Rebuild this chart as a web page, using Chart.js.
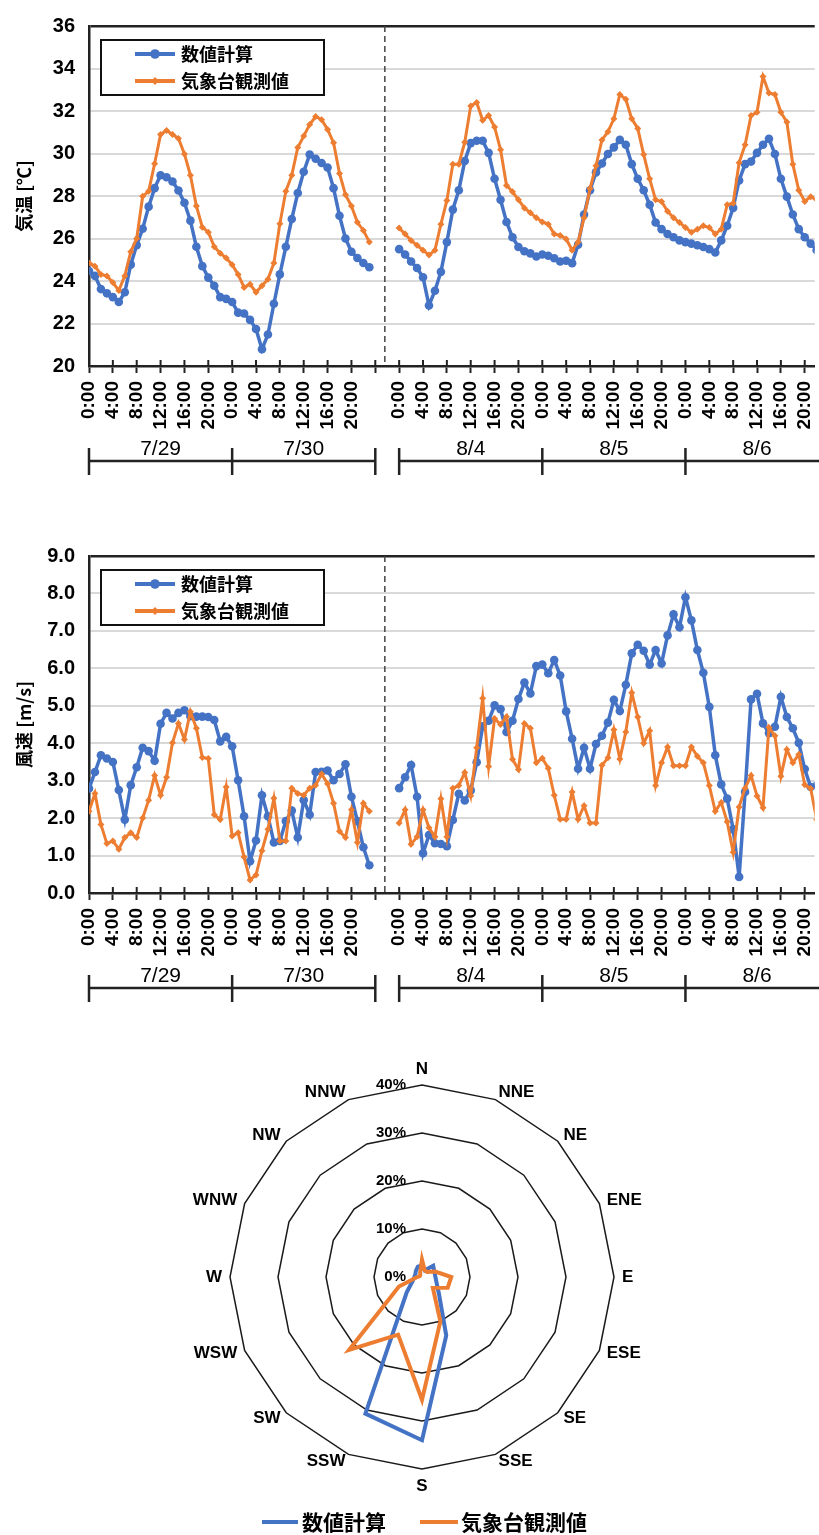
<!DOCTYPE html>
<html>
<head>
<meta charset="utf-8">
<script src="https://cdn.jsdelivr.net/npm/chart.js@4.4.1/dist/chart.umd.min.js"></script>
<style>
  html, body { margin: 0; padding: 0; background: #fff; }
  body { width: 819px; height: 1535px; position: relative; overflow: hidden; }
  canvas { position: absolute; left: 0; }
  #temp { top: 0; }
  #wind { top: 530px; }
  #rose { top: 1040px; }
</style>
</head>
<body>
<canvas id="temp" width="819" height="480"></canvas>
<canvas id="wind" width="819" height="480"></canvas>
<canvas id="rose" width="819" height="495"></canvas>
<script>
const SANS = "'Liberation Sans', Arial, sans-serif";
const CJK = "'Noto Sans CJK JP', 'Noto Sans CJK SC', sans-serif";
const BLUE = '#4472C4';
const ORANGE = '#ED7D31';

const seriesNames = ['数値計算', '気象台観測値'];

// x axis is in hours: 7/29 0:00 = 0, 8/4 0:00 placed at 52 (gap after 7/30)
const AUG_START = 52;
const BREAK_AT = 49.6;
const X_MAX = 121.67;
const tickHours = [0, 4, 8, 12, 16, 20, 24, 28, 32, 36, 40, 44, 48,
  52, 56, 60, 64, 68, 72, 76, 80, 84, 88, 92, 96, 100, 104, 108, 112, 116, 120];
const dayLabels = ['7/29', '7/30', '8/4', '8/5', '8/6'];
const dayStarts = [0, 24, 52, 76, 100];
const dayBounds = [0, 24, 48, 52, 76, 100];

// hourly temperature [°C]
const tempCalcJul = [24.47, 24.24, 23.62, 23.42, 23.24, 23.01, 23.47, 24.77, 25.69, 26.46,
  27.5, 28.37, 28.98, 28.88, 28.68, 28.26, 27.68, 26.84, 25.61, 24.7,
  24.16, 23.78, 23.24, 23.16, 23.01, 22.51, 22.47, 22.17, 21.74, 20.79,
  21.48, 22.93, 24.31, 25.61, 26.92, 28.14, 29.14, 29.95, 29.75, 29.55,
  29.34, 28.37, 27.07, 26.0, 25.38, 25.08, 24.85, 24.65];
const tempObsJul = [24.85, 24.7, 24.31, 24.24, 23.93, 23.55, 24.24, 25.38, 26.0, 27.99,
  28.22, 29.52, 30.9, 31.08, 30.9, 30.71, 29.98, 28.98, 27.53, 26.53,
  26.3, 25.61, 25.31, 25.08, 24.77, 24.31, 23.7, 23.85, 23.47, 23.78,
  24.08, 24.85, 26.69, 28.22, 28.98, 30.28, 30.82, 31.36, 31.74, 31.59,
  31.13, 30.51, 29.06, 28.06, 27.53, 26.76, 26.38, 25.84];
const tempCalcAug = [25.5, 25.25, 24.92, 24.61, 24.18, 22.85, 23.54, 24.43, 25.83, 27.36,
  28.27, 29.65, 30.49, 30.6, 30.6, 30.03, 28.81, 27.82, 26.78, 26.06,
  25.6, 25.4, 25.3, 25.15, 25.25, 25.19, 25.07, 24.92, 24.95, 24.84,
  25.71, 27.13, 28.27, 29.11, 29.53, 29.98, 30.29, 30.64, 30.41, 29.5,
  28.81, 28.27, 27.59, 26.75, 26.44, 26.21, 26.06, 25.91, 25.83, 25.76,
  25.68, 25.6, 25.5, 25.34, 25.91, 26.6, 27.44, 28.73, 29.5, 29.62,
  30.03, 30.41, 30.69, 29.98, 28.81, 27.97, 27.13, 26.44, 26.06, 25.76,
  25.45];
const tempObsAug = [26.49, 26.21, 25.91, 25.68, 25.45, 25.22, 25.45, 26.67, 27.79, 29.5,
  29.5, 30.53, 32.24, 32.4, 31.56, 31.79, 31.25, 30.18, 28.5, 28.2,
  27.82, 27.44, 27.21, 26.98, 26.78, 26.67, 26.21, 26.14, 25.98, 25.45,
  25.83, 26.98, 28.35, 29.42, 30.64, 31.02, 31.63, 32.78, 32.55, 31.63,
  31.18, 29.95, 28.81, 27.82, 27.74, 27.28, 26.98, 26.75, 26.52, 26.29,
  26.44, 26.6, 26.52, 26.21, 26.44, 27.59, 27.66, 29.57, 30.41, 31.79,
  31.94, 33.62, 32.85, 32.78, 31.94, 31.48, 29.5, 28.27, 27.74, 27.97,
  27.82];

// hourly wind speed [m/s]
const windCalcJul = [2.79, 3.23, 3.68, 3.59, 3.5, 2.75, 1.96, 2.88, 3.36, 3.88,
  3.79, 3.53, 4.52, 4.81, 4.66, 4.81, 4.88, 4.72, 4.71, 4.71,
  4.7, 4.62, 4.05, 4.17, 3.92, 3.01, 2.05, 0.85, 1.4, 2.61,
  2.05, 1.35, 1.39, 1.92, 2.2, 1.48, 2.48, 2.09, 3.23, 3.24,
  3.27, 3.01, 3.18, 3.44, 2.57, 1.92, 1.22, 0.74];
const windObsJul = [2.18, 2.66, 1.83, 1.32, 1.39, 1.17, 1.48, 1.61, 1.48, 2.0,
  2.48, 3.14, 2.61, 3.09, 4.01, 4.53, 4.1, 4.84, 4.4, 3.62,
  3.59, 2.09, 1.96, 2.83, 1.52, 1.61, 0.96, 0.35, 0.48, 1.13,
  1.7, 2.53, 1.39, 1.39, 2.8, 2.66, 2.61, 2.8, 2.88, 3.18,
  2.92, 2.4, 1.65, 1.48, 2.22, 1.35, 2.4, 2.18];
const windCalcAug = [2.8, 3.09, 3.42, 2.57, 1.06, 1.55, 1.33, 1.31, 1.25, 1.95,
  2.65, 2.47, 2.74, 3.49, 4.45, 4.6, 5.01, 4.91, 4.3, 4.6,
  5.18, 5.62, 5.33, 6.06, 6.1, 5.87, 6.22, 5.81, 4.85, 4.12,
  3.32, 3.88, 3.32, 3.98, 4.2, 4.55, 5.16, 4.86, 5.56, 6.4,
  6.63, 6.47, 6.1, 6.49, 6.13, 6.88, 7.44, 7.1, 7.9, 7.28,
  6.49, 5.88, 4.97, 3.68, 2.9, 2.52, 1.7, 0.43, 2.7, 5.17,
  5.32, 4.53, 4.27, 4.44, 5.24, 4.7, 4.4, 4.01, 3.31, 2.83,
  2.87];
const windObsAug = [1.87, 2.22, 1.3, 1.5, 2.22, 1.74, 1.5, 2.52, 1.5, 2.8,
  2.87, 3.22, 2.6, 3.88, 5.2, 3.38, 4.66, 4.5, 4.71, 3.57,
  3.3, 4.53, 4.4, 3.48, 3.6, 3.33, 2.61, 1.97, 1.97, 2.7,
  1.97, 2.33, 1.87, 1.87, 3.41, 3.61, 4.36, 3.58, 4.3, 5.35,
  4.7, 4.0, 4.33, 2.87, 3.48, 3.9, 3.4, 3.4, 3.4, 3.9,
  3.65, 3.48, 2.87, 2.18, 2.42, 1.9, 1.09, 2.3, 2.8, 3.14,
  2.59, 2.28, 4.42, 4.2, 3.12, 3.83, 3.48, 3.7, 2.89, 2.79,
  1.96];

// wind direction frequency [%]
const directions = ['N', 'NNE', 'NE', 'ENE', 'E', 'ESE', 'SE', 'SSE',
  'S', 'SSW', 'SW', 'WSW', 'W', 'WNW', 'NW', 'NNW'];
const roseCalc = [2.5, 1.5, 3.3, 2.8, 2.8, 3.3, 5.0, 13.2, 34.0, 30.8, 4.5, 2.1, 1.6, 1.5, 1.8, 2.3];
const roseObs = [3.6, 1.5, 1.5, 3.0, 6.1, 5.8, 3.2, 10.0, 25.6, 13.0, 21.5, 5.2, 1.0, 0.5, 0.5, 1.0];
const roseTicks = [0, 10, 20, 30, 40];

Chart.defaults.font.family = SANS;
Chart.defaults.color = '#000';

const toPoints = (jul, aug) => jul.map((v, i) => ({ x: i, y: v }))
  .concat([{ x: BREAK_AT, y: null }])
  .concat(aug.map((v, i) => ({ x: AUG_START + i, y: v })));

const hourLabel = (v) => {
  if (v === 48) return '';
  const h = v < AUG_START ? v % 24 : (v - AUG_START) % 24;
  return h + ':00';
};

const drawMarker = (ctx, style, x, y, r) => {
  ctx.beginPath();
  if (style === 'rectRot') {
    ctx.moveTo(x, y - r); ctx.lineTo(x + r, y); ctx.lineTo(x, y + r); ctx.lineTo(x - r, y);
    ctx.closePath();
  } else {
    ctx.arc(x, y, r, 0, Math.PI * 2);
  }
  ctx.fill();
};

function lineDecor(title) {
  return {
    id: 'lineDecor',
    beforeDatasetsDraw(chart) {
      const { ctx, chartArea: a } = chart;
      const bx = chart.scales.x.getPixelForValue(BREAK_AT);
      ctx.save();
      ctx.strokeStyle = '#444';
      ctx.lineWidth = 1.5;
      ctx.setLineDash([6, 4]);
      ctx.beginPath();
      ctx.moveTo(bx, a.top);
      ctx.lineTo(bx, a.bottom);
      ctx.stroke();
      ctx.restore();
    },
    afterDraw(chart) {
      const { ctx, chartArea: a } = chart;
      const x = chart.scales.x;
      ctx.save();

      // upper half of the axis tick marks
      ctx.strokeStyle = '#222';
      ctx.lineWidth = 2;
      tickHours.forEach((h) => {
        const px = x.getPixelForValue(h);
        ctx.beginPath();
        ctx.moveTo(px, a.bottom - 6);
        ctx.lineTo(px, a.bottom);
        ctx.stroke();
      });

      // date brackets
      const lineY = a.bottom + 95;
      ctx.lineWidth = 2.5;
      [[0, 48], [AUG_START, X_MAX + 4]].forEach(([s, e]) => {
        ctx.beginPath();
        ctx.moveTo(x.getPixelForValue(s), lineY);
        ctx.lineTo(x.getPixelForValue(e), lineY);
        ctx.stroke();
      });
      dayBounds.forEach((h) => {
        const px = x.getPixelForValue(h);
        ctx.beginPath();
        ctx.moveTo(px, lineY - 13);
        ctx.lineTo(px, lineY + 14);
        ctx.stroke();
      });
      ctx.fillStyle = '#000';
      ctx.font = '21px ' + SANS;
      ctx.textAlign = 'center';
      ctx.textBaseline = 'middle';
      dayLabels.forEach((d, i) => {
        ctx.fillText(d, x.getPixelForValue(dayStarts[i] + 12), a.bottom + 83);
      });

      // y axis title
      ctx.save();
      ctx.translate(24, (a.top + a.bottom) / 2);
      ctx.rotate(-Math.PI / 2);
      ctx.font = 'bold 18px ' + CJK;
      ctx.fillText(title, 0, 0);
      ctx.restore();

      // legend box
      const lx = a.left + 12;
      const ly = a.top + 14;
      ctx.fillStyle = '#fff';
      ctx.fillRect(lx, ly, 223, 55);
      ctx.strokeStyle = '#111';
      ctx.lineWidth = 2;
      ctx.strokeRect(lx, ly, 223, 55);
      chart.data.datasets.forEach((ds, i) => {
        const y = ly + 14 + i * 27;
        ctx.strokeStyle = ds.borderColor;
        ctx.lineWidth = 4;
        ctx.beginPath();
        ctx.moveTo(lx + 34, y);
        ctx.lineTo(lx + 74, y);
        ctx.stroke();
        ctx.fillStyle = ds.borderColor;
        drawMarker(ctx, ds.pointStyle, lx + 54, y, ds.pointRadius + 0.5);
        ctx.fillStyle = '#000';
        ctx.font = 'bold 18px ' + CJK;
        ctx.textAlign = 'left';
        ctx.fillText(ds.label, lx + 80, y);
      });
      ctx.restore();
    }
  };
}

function lineChart(id, calcJul, calcAug, obsJul, obsAug, yMin, yMax, yStep, digits, title, padTop, padBottom) {
  return new Chart(document.getElementById(id), {
    type: 'line',
    data: {
      datasets: [
        {
          label: seriesNames[0],
          data: toPoints(calcJul, calcAug),
          borderColor: BLUE,
          backgroundColor: BLUE,
          borderWidth: 3.5,
          pointStyle: 'circle',
          pointRadius: 4.3,
          pointBorderWidth: 0,
          spanGaps: false,
          order: 1
        },
        {
          label: seriesNames[1],
          data: toPoints(obsJul, obsAug),
          borderColor: ORANGE,
          backgroundColor: ORANGE,
          borderWidth: 3,
          pointStyle: 'rectRot',
          pointRadius: 3.5,
          pointBorderWidth: 0,
          spanGaps: false,
          order: 0
        }
      ]
    },
    options: {
      responsive: false,
      animation: false,
      layout: { padding: { top: padTop, bottom: padBottom, left: 0, right: 0 } },
      plugins: { legend: { display: false }, tooltip: { enabled: false } },
      scales: {
        x: {
          type: 'linear',
          min: 0,
          max: X_MAX,
          afterBuildTicks: (s) => { s.ticks = tickHours.map((v) => ({ value: v })); },
          afterFit: (s) => { s.height = 80; s.paddingLeft = 0; s.paddingRight = 0; },
          border: { color: '#222', width: 2.5 },
          grid: { drawOnChartArea: false, drawTicks: true, tickLength: 7, tickColor: '#222', tickWidth: 2 },
          ticks: {
            autoSkip: false,
            minRotation: 90,
            maxRotation: 90,
            padding: 8,
            color: '#000',
            font: { family: SANS, size: 19, weight: 'bold' },
            callback: hourLabel
          }
        },
        y: {
          min: yMin,
          max: yMax,
          afterFit: (s) => { s.width = 89; },
          border: { color: '#222', width: 2.5 },
          grid: {
            drawTicks: false,
            color: (c) => (c.tick && c.tick.value === yMax ? '#222' : '#d9d9d9'),
            lineWidth: (c) => (c.tick && c.tick.value === yMax ? 2.5 : 2)
          },
          ticks: {
            stepSize: yStep,
            padding: 14,
            color: '#000',
            font: { family: SANS, size: 20, weight: 'bold' },
            callback: (v) => v.toFixed(digits)
          }
        }
      }
    },
    plugins: [lineDecor(title)]
  });
}

lineChart('temp', tempCalcJul, tempCalcAug, tempObsJul, tempObsAug, 20, 36, 2, 0, '気温 [℃]', 19, 34);
lineChart('wind', windCalcJul, windCalcAug, windObsJul, windObsAug, 0, 9, 1, 1, '風速 [m/s]', 20, 37);

const roseDecor = {
  id: 'roseDecor',
  afterDraw(chart) {
    const { ctx } = chart;
    const r = chart.scales.r;
    ctx.save();
    ctx.fillStyle = '#000';

    // direction labels
    ctx.font = 'bold 17px ' + SANS;
    directions.forEach((d, i) => {
      const p = r.getPointPosition(i, r.drawingArea + 8);
      const ang = (i * 360 / directions.length) * Math.PI / 180;
      const s = Math.sin(ang);
      const c = Math.cos(ang);
      ctx.textAlign = Math.abs(s) < 0.01 ? 'center' : (s > 0 ? 'left' : 'right');
      if (c > 0.99) {
        ctx.textBaseline = 'alphabetic';
        ctx.fillText(d, p.x, p.y - 3);
      } else if (c < -0.99) {
        ctx.textBaseline = 'top';
        ctx.fillText(d, p.x, p.y + 1);
      } else {
        ctx.textBaseline = 'middle';
        ctx.fillText(d, p.x, p.y);
      }
    });

    // ring values
    ctx.font = 'bold 15px ' + SANS;
    ctx.textAlign = 'right';
    ctx.textBaseline = 'middle';
    roseTicks.forEach((v) => {
      ctx.fillText(v + '%', r.xCenter - 16, r.yCenter - r.getDistanceFromCenterForValue(v));
    });

    // legend
    const ly = 482;
    const items = [[262, 298, 302], [420, 458, 461]];
    chart.data.datasets.forEach((ds, i) => {
      const [x0, x1, tx] = items[i];
      ctx.strokeStyle = ds.borderColor;
      ctx.lineWidth = 4;
      ctx.beginPath();
      ctx.moveTo(x0, ly);
      ctx.lineTo(x1, ly);
      ctx.stroke();
      ctx.fillStyle = '#000';
      ctx.font = 'bold 21px ' + CJK;
      ctx.textAlign = 'left';
      ctx.fillText(ds.label, tx, ly);
    });
    ctx.restore();
  }
};

new Chart(document.getElementById('rose'), {
  type: 'radar',
  data: {
    labels: directions,
    datasets: [
      { label: seriesNames[0], data: roseCalc, borderColor: BLUE, borderWidth: 4, pointRadius: 0, fill: false, order: 1 },
      { label: seriesNames[1], data: roseObs, borderColor: ORANGE, borderWidth: 4, pointRadius: 0, fill: false, order: 0 }
    ]
  },
  options: {
    responsive: false,
    animation: false,
    layout: { padding: { left: 230, right: 205, top: 45, bottom: 66 } },
    plugins: { legend: { display: false }, tooltip: { enabled: false } },
    scales: {
      r: {
        min: 0,
        max: 40,
        ticks: { stepSize: 10, display: false },
        pointLabels: { display: false },
        angleLines: { display: false },
        grid: { circular: false, color: '#1a1a1a', lineWidth: 1.5 }
      }
    }
  },
  plugins: [roseDecor]
});
</script>
</body>
</html>
